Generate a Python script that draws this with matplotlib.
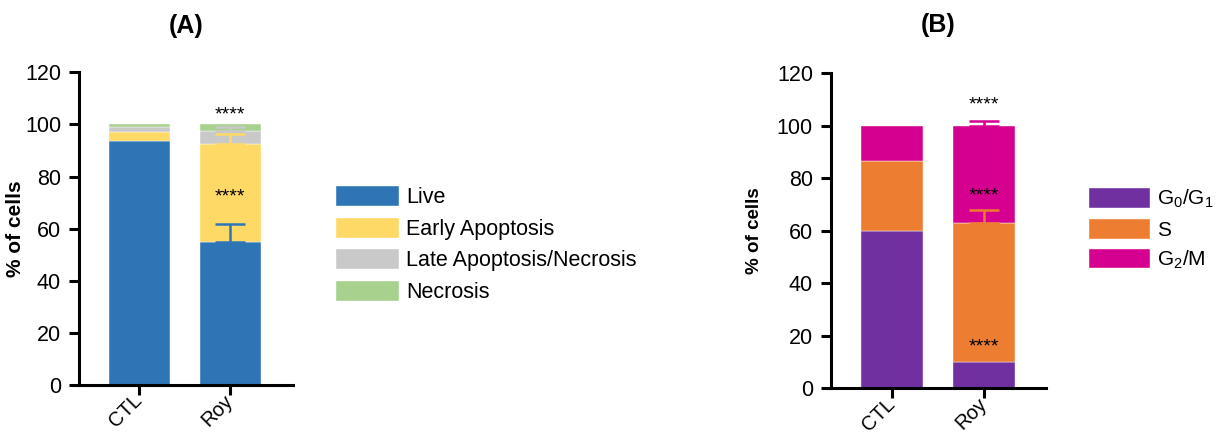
import numpy as np
import matplotlib
matplotlib.use('Agg')
import matplotlib.pyplot as plt

plt.rcParams['font.family'] = ['Liberation Sans', 'DejaVu Sans']
plt.rcParams['mathtext.fontset'] = 'custom'
plt.rcParams['mathtext.rm'] = 'Liberation Sans'
plt.rcParams['mathtext.it'] = 'Liberation Sans'
plt.rcParams['axes.linewidth'] = 2.2

#-------------- data ----------------------------------
groups = ['CTL', 'Roy']

# panel A: apoptosis
a_labels = ['Live', 'Early Apoptosis', 'Late Apoptosis/Necrosis', 'Necrosis']
a_colors = ['#2E75B6', '#FFD966', '#C9C9C9', '#A9D18E']
a_live = [93.5, 55.0]
a_early = [3.5, 37.3]
a_late = [2.0, 5.2]
a_necr = [1.0, 2.5]
a_live_err = [0.0, 6.8]
a_early_err = [0.0, 3.9]
a_late_err = [0.0, 1.5]
a_necr_err = [0.0, 0.0]

# panel B: cell cycle
b_labels = ['G$_0$/G$_1$', 'S', 'G$_2$/M']
b_colors = ['#7030A0', '#ED7D31', '#D5008F']
b_g0g1 = [60.0, 10.0]
b_s = [26.5, 53.0]
b_g2m = [13.5, 37.0]
b_g0g1_err = [0.0, 0.0]
b_s_err = [0.0, 4.9]
b_g2m_err = [0.0, 2.0]

# significance marks: (bar index, y, text)
a_stars = [(1, 103.5, '****'), (1, 72.0, '****')]
b_stars = [(1, 108.0, '****'), (1, 73.3, '****'), (1, 15.8, '****')]

fig = plt.figure(figsize=(12.2, 4.36), dpi=100)
axA = fig.add_axes([0.0648, 0.1170, 0.1754, 0.7172])
axB = fig.add_axes([0.6811, 0.1094, 0.1763, 0.7225])

x = np.arange(len(groups))
width = 0.67


def stacked(ax, series, errs, colors, labels):
    bottom = np.zeros(len(groups))
    handles = []
    for vals, err, c, lab in zip(series, errs, colors, labels):
        vals = np.array(vals)
        h = ax.bar(x, vals, width, bottom=bottom, color=c, label=lab,
                   edgecolor='white', linewidth=0.3, zorder=2)
        handles.append(h)
        top = bottom + vals
        err = np.array(err)
        m = err > 0
        if m.any():
            ax.errorbar(x[m], top[m], yerr=[np.zeros(m.sum()), err[m]], fmt='none',
                        ecolor=c, elinewidth=1.8, capsize=11, capthick=1.8, zorder=3)
        bottom = top
    return handles


hA = stacked(axA, [a_live, a_early, a_late, a_necr],
             [a_live_err, a_early_err, a_late_err, a_necr_err], a_colors, a_labels)
hB = stacked(axB, [b_g0g1, b_s, b_g2m],
             [b_g0g1_err, b_s_err, b_g2m_err], b_colors, b_labels)

for ax, stars in [(axA, a_stars), (axB, b_stars)]:
    for i, yv, t in stars:
        ax.text(x[i], yv, t, ha='center', va='center', fontsize=14, zorder=4)

for ax, xl in [(axA, (-0.66, 1.69)), (axB, (-0.66, 1.67))]:
    ax.set_ylim(0, 120)
    ax.set_xlim(*xl)
    ax.set_yticks(np.arange(0, 121, 20))
    ax.set_xticks(x)
    ax.set_xticklabels(groups, rotation=45, ha='right', va='center',
                       rotation_mode='anchor')
    ax.spines['top'].set_visible(False)
    ax.spines['right'].set_visible(False)
    ax.tick_params(axis='both', direction='out', length=7, width=2.2,
                   labelsize=15.5)
    ax.tick_params(axis='y', pad=6)
    ax.tick_params(axis='x', labelsize=14.5, pad=2)

axA.set_ylabel('% of cells', fontsize=15, fontweight='bold')
axA.yaxis.set_label_coords(-0.252, 0.5)
axB.set_ylabel('% of cells', fontsize=13.5, fontweight='bold')
axB.yaxis.set_label_coords(-0.316, 0.5)

axA.set_title('(A)', fontsize=18, fontweight='bold', pad=28)
axB.set_title('(B)', fontsize=18, fontweight='bold', pad=30)

leg_kw = dict(frameon=False, handlelength=2.93, handleheight=1.07,
              labelspacing=0.42, handletextpad=0.33, borderpad=0, borderaxespad=0)
fig.legend(handles=hA, labels=a_labels, loc='upper left', fontsize=15.5,
           bbox_to_anchor=(336 / 1220, 1 - 186 / 436), **leg_kw)
fig.legend(handles=hB, labels=b_labels, loc='upper left', fontsize=15,
           bbox_to_anchor=(1089 / 1220, 1 - 188 / 436), **leg_kw)

fig.savefig('out.png', dpi=100)
